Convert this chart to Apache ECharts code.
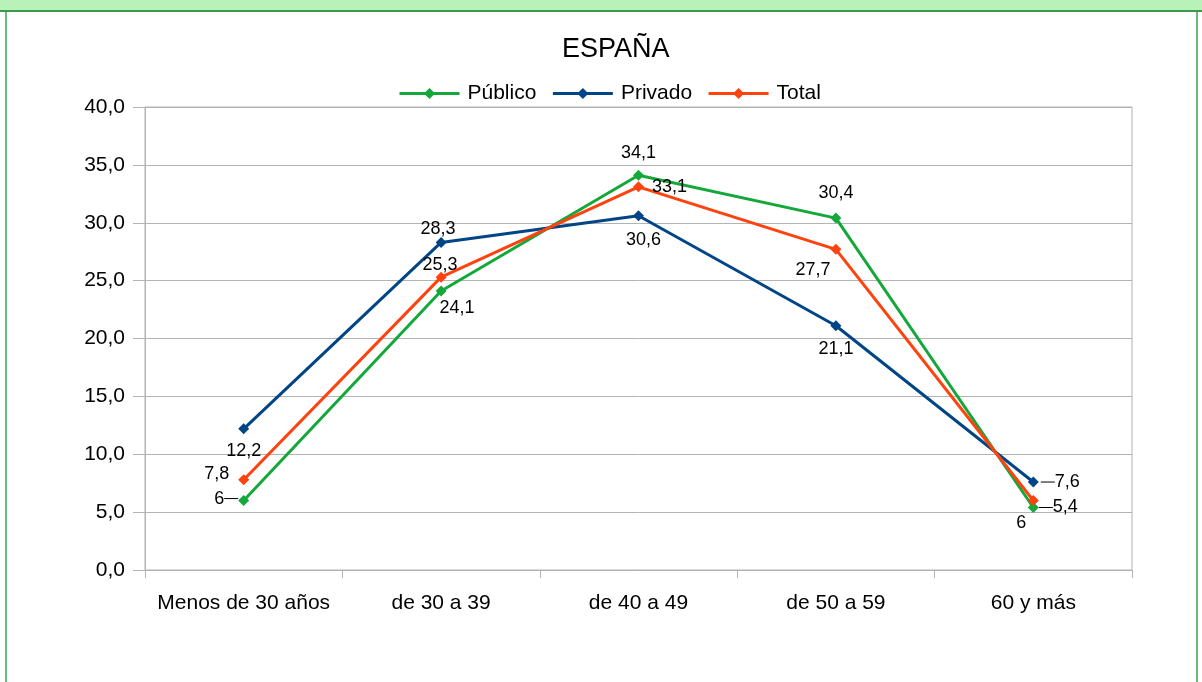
<!DOCTYPE html>
<html>
<head>
<meta charset="utf-8">
<style>
  html, body { margin: 0; padding: 0; background: #fff; }
  #top { position: absolute; left: 0; top: 0; width: 1202px; height: 10px; background: #b8f2b8; border-bottom: 2px solid #3a9a48; }
  #frameL { position: absolute; left: 5px; top: 12px; width: 2px; height: 670px; background: #6dbb7b; }
  #frameR { position: absolute; left: 1196px; top: 12px; width: 2px; height: 670px; background: #6dbb7b; }
  #chart { position: absolute; left: 0; top: 0; width: 1202px; height: 682px; }
</style>
</head>
<body>
<div id="chart"></div>
<div id="top"></div>
<div id="frameL"></div>
<div id="frameR"></div>
<script src="https://cdn.jsdelivr.net/npm/echarts@6/dist/echarts.min.js"></script>
<script>
// categorías y valores
const categorias = ['Menos de 30 años', 'de 30 a 39', 'de 40 a 49', 'de 50 a 59', '60 y más'];
const publico = [6, 24.1, 34.1, 30.4, 5.4];
const privado = [12.2, 28.3, 30.6, 21.1, 7.6];
const total = [7.8, 25.3, 33.1, 27.7, 6];

// posición de cada etiqueta: [posición, distancia, desplazamiento, guía]
const posPublico = [['left', 0, [0, -2], 'der'], ['bottom', 2, [16, 0]], ['top', 8, [0, 0]], ['top', 11, [0, 0]], ['right', 0, [0, 0], 'izq']];
const posPrivado = [['bottom', 8, [0, 0]], ['top', 0, [-3, 1]], ['bottom', 10, [5, 0]], ['bottom', 9, [0, 0]], ['right', 0, [2, 0], 'izq']];
const posTotal = [['left', 9, [0, -6]], ['top', 0, [-1, 2]], ['right', 8, [0, 0]], ['bottom', 6, [-23, 0]], ['bottom', 8, [-12, 0]]];

function coma(v) { return String(v).replace('.', ','); }

function datos(valores, pos) {
    return valores.map((v, i) => {
        let txt = '{t|' + coma(v) + '}';
        if (pos[i][3] === 'der') txt = txt + '{b|}';
        if (pos[i][3] === 'izq') txt = '{b|}' + txt;
        return {
            value: v,
            label: { position: pos[i][0], distance: pos[i][1], offset: pos[i][2], formatter: txt }
        };
    });
}

function serie(nombre, color, valores, pos) {
    return {
        name: nombre,
        type: 'line',
        symbol: 'diamond',
        symbolSize: 11,
        lineStyle: { width: 3, color: color },
        itemStyle: { color: color },
        label: {
            show: true,
            rich: {
                t: { fontSize: 18, color: '#000', fontFamily: 'Liberation Sans' },
                b: { width: 14, height: 1, backgroundColor: '#000' }
            }
        },
        data: datos(valores, pos)
    };
}

let chart = echarts.init(document.getElementById('chart'));
chart.setOption({
    animation: false,
    textStyle: { fontFamily: 'Liberation Sans' },
    title: {
        text: 'ESPAÑA',
        left: 557,
        top: 31,
        textStyle: { fontSize: 27, fontWeight: 'normal', color: '#000' }
    },
    legend: {
        top: 78,
        left: 393,
        itemWidth: 60,
        itemHeight: 14,
        itemGap: 15,
        lineStyle: { width: 3 },
        textStyle: { fontSize: 21, color: '#000', padding: [0, 0, 0, 3] },
        data: ['Público', 'Privado', 'Total']
    },
    grid: {
        left: 145, right: 70, top: 107, bottom: 112,
        show: true, borderColor: '#b3b3b3', borderWidth: 1
    },
    xAxis: {
        type: 'category',
        data: categorias,
        boundaryGap: true,
        axisLine: { lineStyle: { color: '#b3b3b3' } },
        axisTick: { show: true, length: 8, interval: 0, lineStyle: { color: '#b3b3b3' } },
        axisLabel: { fontSize: 21, color: '#000', margin: 23, interval: 0 }
    },
    yAxis: {
        type: 'value',
        min: 0, max: 40, interval: 5,
        axisLine: { show: true, lineStyle: { color: '#b3b3b3' } },
        axisTick: { show: true, length: 12, lineStyle: { color: '#b3b3b3' } },
        splitLine: { lineStyle: { color: '#b3b3b3' } },
        axisLabel: { fontSize: 21, color: '#000', margin: 20, formatter: v => v.toFixed(1).replace('.', ',') }
    },
    series: [
        serie('Público', '#14a83a', publico, posPublico),
        serie('Privado', '#004586', privado, posPrivado),
        serie('Total', '#ff420e', total, posTotal)
    ]
});
</script>
</body>
</html>
